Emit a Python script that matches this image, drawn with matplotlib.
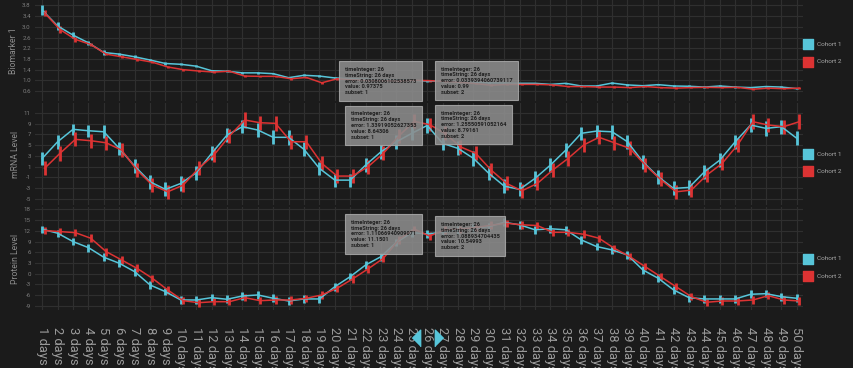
import numpy as np
import matplotlib.pyplot as plt
from matplotlib.transforms import blended_transform_factory

plt.rcParams['font.family'] = ['Roboto', 'DejaVu Sans']

days = list(range(1, 51))
day_labels = [f"{d} days" for d in days]

# Biomarker 1
bio_c1 = [3.62, 3.03, 2.69, 2.40, 2.04, 1.98, 1.88, 1.76, 1.63, 1.60,
          1.53, 1.36, 1.34, 1.28, 1.28, 1.25, 1.10, 1.19, 1.16, 1.09,
          1.06, 1.04, 1.02, 1.01, 1.00, 0.97375, 0.97, 0.95, 0.93, 0.91,
          0.90, 0.89, 0.89, 0.85, 0.89, 0.79, 0.79, 0.90, 0.83, 0.80,
          0.84, 0.79, 0.78, 0.75, 0.79, 0.75, 0.73, 0.77, 0.75, 0.69]
bio_c2 = [3.52, 2.90, 2.53, 2.34, 1.98, 1.88, 1.78, 1.68, 1.50, 1.40,
          1.35, 1.31, 1.34, 1.16, 1.15, 1.15, 1.06, 1.11, 0.91, 1.06,
          1.02, 1.00, 0.99, 0.98, 1.00, 0.99, 0.96, 0.93, 0.88, 0.82,
          0.85, 0.85, 0.85, 0.83, 0.77, 0.77, 0.75, 0.75, 0.73, 0.77,
          0.73, 0.71, 0.73, 0.74, 0.73, 0.74, 0.67, 0.71, 0.69, 0.71]
bio_e1 = [0.19, 0.15, 0.10, 0.07, 0.08, 0.06, 0.05, 0.05, 0.04, 0.04,
          0.04, 0.04, 0.03, 0.03, 0.03, 0.03, 0.03, 0.03, 0.03, 0.03,
          0.03, 0.03, 0.03, 0.03, 0.03, 0.0308006102538573, 0.03, 0.03, 0.03, 0.03,
          0.03, 0.03, 0.03, 0.03, 0.03, 0.03, 0.03, 0.03, 0.03, 0.03,
          0.03, 0.03, 0.03, 0.03, 0.03, 0.03, 0.03, 0.03, 0.03, 0.03]
bio_e2 = [0.11, 0.12, 0.10, 0.05, 0.05, 0.05, 0.04, 0.04, 0.04, 0.04,
          0.04, 0.03, 0.03, 0.03, 0.03, 0.03, 0.03, 0.03, 0.03, 0.03,
          0.03, 0.03, 0.03, 0.03, 0.03, 0.0339394060739117, 0.03, 0.03, 0.03, 0.03,
          0.03, 0.03, 0.03, 0.03, 0.03, 0.03, 0.03, 0.03, 0.03, 0.03,
          0.03, 0.03, 0.03, 0.03, 0.03, 0.03, 0.03, 0.03, 0.03, 0.03]

# mRNA Level
mrna_c1 = [2.54, 5.62, 7.92, 7.66, 7.47, 4.39, 1.11, -1.80, -3.21, -2.10,
           -0.13, 3.47, 6.86, 8.41, 7.79, 6.44, 6.44, 4.20, 0.68, -1.49,
           -1.49, 1.30, 3.77, 5.62, 7.18, 8.64306, 5.32, 4.39, 2.54, -0.24,
           -2.60, -3.21, -1.17, 1.30, 4.08, 7.18, 7.60, 7.47, 5.62, 1.91,
           -0.87, -3.03, -2.84, 0.05, 2.22, 5.62, 8.72, 8.10, 8.41, 6.25]
mrna_c2 = [0.68, 3.47, 6.06, 5.81, 5.43, 4.08, 0.37, -2.41, -3.66, -2.41,
           0.68, 3.15, 6.68, 9.65, 9.14, 9.03, 5.62, 5.62, 1.61, -0.74,
           -0.74, 0.98, 3.47, 6.68, 9.40, 8.79161, 7.18, 4.69, 3.47, 0.37,
           -2.10, -3.47, -2.10, 0.37, 2.54, 5.01, 6.44, 5.43, 4.39, 1.30,
           -1.36, -3.66, -3.34, -0.56, 1.61, 5.01, 9.33, 8.72, 8.41, 9.33]
mrna_e1 = [1.25, 1.30, 1.00, 1.10, 1.20, 1.25, 1.30, 1.30, 1.30, 1.35,
           1.30, 1.30, 1.25, 1.20, 1.25, 1.30, 1.35, 1.30, 1.25, 1.20,
           1.20, 1.30, 1.30, 1.30, 1.30, 1.33919052627353, 1.30, 1.30, 1.35, 1.30,
           1.30, 1.30, 1.35, 1.30, 1.30, 1.25, 1.20, 1.30, 1.30, 1.30,
           1.30, 1.30, 1.35, 1.30, 1.25, 1.30, 1.30, 1.35, 1.30, 1.30]
mrna_e2 = [1.30, 1.35, 1.30, 1.30, 1.30, 1.35, 1.30, 1.30, 1.30, 1.30,
           1.30, 1.35, 1.30, 1.40, 1.30, 1.35, 1.30, 1.30, 1.30, 1.30,
           1.30, 1.30, 1.30, 1.30, 1.30, 1.25550591052164, 1.30, 1.30, 1.30, 1.30,
           1.30, 1.30, 1.30, 1.30, 1.35, 1.30, 1.30, 1.30, 1.30, 1.30,
           1.30, 1.30, 1.30, 1.30, 1.30, 1.30, 1.35, 1.30, 1.30, 1.40]

# Protein Level
prot_c1 = [12.47, 11.35, 8.99, 7.30, 4.60, 2.92, 0.56, -3.17, -5.06, -7.39,
           -7.39, -6.74, -7.19, -6.26, -5.98, -6.91, -7.67, -7.10, -7.10, -3.65,
           -0.84, 2.44, 4.78, 8.80, 11.50, 11.1501, 11.60, 12.30, 12.75, 13.20,
           14.40, 13.70, 12.30, 12.60, 12.30, 9.47, 7.60, 6.66, 5.25, 1.04,
           -1.30, -4.58, -6.74, -7.10, -7.10, -7.10, -5.79, -5.62, -6.46, -6.91]
prot_c2 = [12.10, 11.80, 11.50, 9.94, 6.18, 3.85, 1.50, -1.30, -4.58, -7.58,
           -8.15, -7.87, -7.87, -6.74, -7.58, -7.39, -7.39, -6.91, -5.98, -4.10,
           -1.49, 1.32, 4.30, 9.50, 12.50, 10.54993, 12.30, 12.50, 12.90, 13.60,
           14.15, 13.70, 13.50, 11.60, 11.60, 11.06, 9.94, 7.10, 4.78, 1.97,
           -0.84, -3.65, -6.46, -8.03, -7.67, -7.67, -7.39, -6.18, -7.39, -7.67]
prot_e1 = [1.00, 1.00, 1.05, 1.10, 1.10, 1.05, 1.10, 1.10, 1.05, 1.10,
           1.10, 1.05, 1.10, 1.10, 1.05, 1.10, 1.10, 1.05, 1.10, 1.10,
           1.05, 1.10, 1.10, 1.05, 1.10, 1.11066940909071, 1.05, 1.10, 1.10, 1.05,
           1.10, 1.10, 1.05, 1.10, 1.10, 1.05, 1.10, 1.10, 1.05, 1.10,
           1.10, 1.05, 1.10, 1.10, 1.05, 1.10, 1.10, 1.05, 1.10, 1.10]
prot_e2 = [0.90, 0.90, 1.00, 1.05, 1.10, 1.05, 1.10, 1.05, 1.05, 1.00,
           1.10, 1.05, 1.00, 1.05, 1.05, 1.00, 1.05, 1.05, 1.00, 1.05,
           1.05, 1.00, 1.05, 1.05, 1.00, 1.088934704435, 1.05, 1.00, 1.05, 1.05,
           1.00, 1.05, 1.05, 1.00, 1.05, 1.05, 1.00, 1.05, 1.05, 1.00,
           1.05, 1.05, 1.00, 1.05, 1.05, 1.00, 1.05, 1.05, 1.00, 1.05]

cohorts = ["Cohort 1", "Cohort 2"]
colors = ["#57c5d9", "#dc3333"]
bg = "#1b1b1b"
grid_c = "#2f2f2f"
focus_day = 26

panels = [
    ("Biomarker 1", bio_c1, bio_c2, bio_e1, bio_e2,
     (0.23, 4.0), np.arange(0.6, 3.81, 0.4), "{:.1f}", (0.56, 0.40)),
    ("mRNA Level", mrna_c1, mrna_c2, mrna_e1, mrna_e2,
     (-6.1, 12.8), np.arange(-5, 12, 2), "{:.0f}", (0.50, 0.33)),
    ("Protein Level", prot_c1, prot_c2, prot_e1, prot_e2,
     (-10.2, 18.7), np.arange(-9, 19, 3), "{:.0f}", (0.50, 0.33)),
]

fig = plt.figure(figsize=(8.54, 3.68), dpi=100, facecolor=bg)
rects = [
    [35 / 854, 1 - 101 / 368, 768 / 854, 101 / 368],
    [35 / 854, 1 - 205 / 368, 768 / 854, 102 / 368],
    [35 / 854, 1 - 310 / 368, 768 / 854, 103 / 368],
]

axes = []
for rect, (name, v1, v2, e1, e2, ylim, yticks, fmt, leg_y) in zip(rects, panels):
    ax = fig.add_axes(rect, facecolor=bg)
    axes.append(ax)
    x = np.array(days, dtype=float)
    ax.errorbar(x, v1, yerr=e1, color=colors[0], lw=1.1, elinewidth=2.0,
                capsize=0, zorder=3)
    ax.errorbar(x + 0.15, v2, yerr=e2, color=colors[1], lw=1.1, elinewidth=2.0,
                capsize=0, zorder=3)
    ax.set_xlim(0.53, 50.4)
    ax.set_ylim(*ylim)
    ax.set_xticks(days)
    ax.set_yticks(yticks)
    ax.set_yticklabels([fmt.format(t) for t in yticks])
    ax.grid(True, color=grid_c, lw=0.8)
    ax.set_axisbelow(True)
    for s in ax.spines.values():
        s.set_visible(False)
    ax.tick_params(axis='y', length=0, pad=3, labelsize=4.4, labelcolor="#7d7d7d")
    ax.tick_params(axis='x', length=0)
    ax.set_ylabel(name, fontsize=6.2, color="#8c8c8c", labelpad=3)

    # legend squares on the right
    for k, (lab, col) in enumerate(zip(cohorts, colors)):
        yy = leg_y[0] - k * 0.17
        ax.scatter([1.0065], [yy], marker='s', s=48, color=col,
                   transform=ax.transAxes, clip_on=False, zorder=5)
        ax.text(1.0185, yy, lab, transform=ax.transAxes, fontsize=4.6,
                color="#a8a8a8", va='center', ha='left')

    # hover boxes for the focused day
    i = days.index(focus_day)
    for k, (vals, errs, side) in enumerate([(v1, e1, -1), (v2, e2, 1)]):
        txt = (f"timeInteger: {focus_day}\n"
               f"timeString: {day_labels[i]}\n"
               f"error: {errs[i]}\n"
               f"value: {vals[i]}\n"
               f"subset: {k + 1}")
        ax.annotate(txt, xy=(focus_day + 0.15 * k, vals[i]),
                    xytext=(side * 8, 0), textcoords='offset points',
                    ha='right' if side < 0 else 'left', va='center',
                    multialignment='left',
                    fontsize=4.1, fontweight='bold', color="#202020",
                    linespacing=1.2, annotation_clip=False, zorder=10,
                    bbox=dict(boxstyle='square,pad=1.0', fc="#8d8d8d",
                              ec="#a8a8a8", lw=0.8, alpha=0.88))

for ax in axes[:2]:
    ax.set_xticklabels([])
axes[2].set_xticklabels(day_labels, rotation=270, fontsize=9.3,
                        color="#9a9a9a", ha='center', va='top')
axes[2].tick_params(axis='x', pad=12)

# crosshair handles around the focused day label
trans = blended_transform_factory(axes[2].transData, axes[2].transAxes)
tri_left = [(0.5, -1), (0.5, 1), (-0.5, 0)]
tri_right = [(-0.5, -1), (-0.5, 1), (0.5, 0)]
axes[2].plot([focus_day - 0.72], [-0.27], marker=tri_left, ms=12,
             color=colors[0], transform=trans, clip_on=False, zorder=6, ls='none')
axes[2].plot([focus_day + 0.75], [-0.27], marker=tri_right, ms=12,
             color=colors[0], transform=trans, clip_on=False, zorder=6, ls='none')

fig.savefig("out.png", dpi=100, facecolor=bg)
